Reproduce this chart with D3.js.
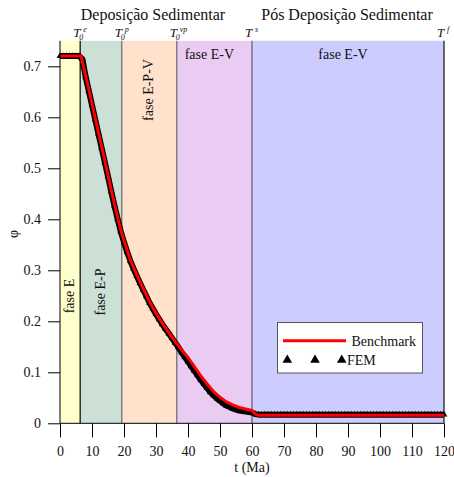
<!DOCTYPE html>
<html>
<head>
<meta charset="utf-8">
<script src="https://cdn.jsdelivr.net/npm/d3@7"></script>
<style>
  html, body { margin: 0; padding: 0; background: #fff; }
  svg { display: block; font-family: "Liberation Serif", "Times New Roman", serif; }
</style>
</head>
<body>
<svg id="chart" width="454" height="477"></svg>
<script>
// Porosity evolution during and after sedimentary deposition
const xTicks = [0, 10, 20, 30, 40, 50, 60, 70, 80, 90, 100, 110, 120];
const yTicks = [0, 0.1, 0.2, 0.3, 0.4, 0.5, 0.6, 0.7];

// Phase intervals (Ma)
const phaseStart = [0, 6.3, 19.3, 36.5, 60];
const phaseEnd   = [6.3, 19.3, 36.5, 60, 120];
const phaseColor = ["#ffffcc", "#cce0d5", "#ffe1cc", "#eaccf3", "#ccccff"];
const phaseName  = ["fase E", "fase E-P", "fase E-P-V", "fase E-V", "fase E-V"];

// Characteristic times shown above the plot
const markT   = [6.3, 19.3, 36.5, 60, 120];
const markSup = ["e", "p", "vp", "s", "f"];
const markSub = ["0", "0", "0", "", ""];

// Benchmark solution
const benchT = [0, 6.6, 7, 8, 9, 10, 12, 14, 16, 18, 19, 20, 22, 24, 26, 28, 30, 32, 34, 36,
  38, 40, 42, 44, 46, 48, 50, 52, 54, 56, 58, 60, 61, 62, 80, 100, 120];
const benchPhi = [0.72, 0.72, 0.709, 0.682, 0.655, 0.627, 0.571, 0.515, 0.458, 0.404, 0.379, 0.358,
  0.320, 0.291, 0.264, 0.238, 0.216, 0.196, 0.178, 0.160,
  0.144, 0.129, 0.111, 0.093, 0.077, 0.062, 0.051, 0.042, 0.036, 0.031, 0.028, 0.025, 0.018, 0.016,
  0.016, 0.016, 0.016];

// FEM solution (1 Ma steps)
const femPhi = [
  0.72, 0.72, 0.72, 0.72, 0.72, 0.72, 0.72, 0.714, 0.680, 0.652,   // 0-9
  0.624, 0.596, 0.568, 0.540, 0.512, 0.484, 0.455, 0.427, 0.401, 0.376, // 10-19
  0.355, 0.336, 0.318, 0.303, 0.289, 0.275, 0.262, 0.249, 0.236, 0.225, // 20-29
  0.214, 0.204, 0.194, 0.185, 0.176, 0.167, 0.158, 0.149, 0.139, 0.130, // 30-39
  0.121, 0.112, 0.103, 0.094, 0.085, 0.077, 0.069, 0.061, 0.055, 0.049, // 40-49
  0.044, 0.039, 0.035, 0.032, 0.029, 0.027, 0.025, 0.024, 0.023, 0.022, // 50-59
  0.021, 0.018, 0.017, 0.017, 0.017, 0.017, 0.017, 0.017, 0.017, 0.017, // 60-69
  0.017, 0.017, 0.017, 0.017, 0.017, 0.017, 0.017, 0.017, 0.017, 0.017, // 70-79
  0.017, 0.017, 0.017, 0.017, 0.017, 0.017, 0.017, 0.017, 0.017, 0.017, // 80-89
  0.017, 0.017, 0.017, 0.017, 0.017, 0.017, 0.017, 0.017, 0.017, 0.017, // 90-99
  0.017, 0.017, 0.017, 0.017, 0.017, 0.017, 0.017, 0.017, 0.017, 0.017, // 100-109
  0.017, 0.017, 0.017, 0.017, 0.017, 0.017, 0.017, 0.017, 0.017, 0.017, // 110-119
  0.017                                                                  // 120
];
const femT = femPhi.map((_, i) => i);

const svg = d3.select("#chart");
const x = d3.scaleLinear().domain([0, 120]).range([60, 444]);
const y = d3.scaleLinear().domain([0, 0.75]).range([423.3, 40.8]);

// Phase backgrounds
svg.append("g").selectAll("rect").data(phaseStart).join("rect")
  .attr("x", (d) => x(d))
  .attr("y", y(0.75))
  .attr("width", (d, i) => x(phaseEnd[i]) - x(d))
  .attr("height", y(0) - y(0.75))
  .attr("fill", (d, i) => phaseColor[i]);

// Phase boundaries
const boundaryColor = ["#000", "#666", "#666", "#5a5a70", "#111"];
svg.append("g").selectAll("line").data(markT).join("line")
  .attr("x1", (d) => x(d)).attr("x2", (d) => x(d))
  .attr("y1", y(0.75)).attr("y2", y(0))
  .attr("stroke", (d, i) => boundaryColor[i])
  .attr("stroke-width", 1.2);

// Phase labels
const labelG = svg.append("g").attr("font-size", 14).attr("fill", "#111");
[0, 1].forEach((i) => {
  const cx = (x(phaseStart[i]) + x(phaseEnd[i])) / 2;
  labelG.append("text")
    .attr("transform", `translate(${cx + 4},${i === 0 ? 296 : 292}) rotate(-90)`)
    .attr("text-anchor", "middle")
    .text(phaseName[i]);
});
{
  const cx = (x(phaseStart[2]) + x(phaseEnd[2])) / 2;
  labelG.append("text")
    .attr("transform", `translate(${cx + 3.5},${90}) rotate(-90)`)
    .attr("text-anchor", "middle")
    .text(phaseName[2]);
}
[3, 4].forEach((i) => {
  const cx = (x(phaseStart[i]) + x(phaseEnd[i])) / 2;
  labelG.append("text")
    .attr("x", cx - 5).attr("y", 59)
    .attr("text-anchor", "middle")
    .text(phaseName[i]);
});

// Section headers
svg.append("text").attr("x", 153).attr("y", 20).attr("text-anchor", "middle")
  .attr("font-size", 16).attr("fill", "#111").text("Deposição Sedimentar");
svg.append("text").attr("x", 347).attr("y", 20).attr("text-anchor", "middle")
  .attr("font-size", 16).attr("fill", "#111").text("Pós Deposição Sedimentar");

// Characteristic time labels
const tG = svg.append("g").attr("fill", "#111").attr("font-style", "italic");
markT.forEach((t, i) => {
  const x0 = x(t) - 7;
  tG.append("text").attr("x", x0).attr("y", 36.5).attr("font-size", 13).text("T");
  tG.append("text").attr("x", x0 + 10).attr("y", 31.5).attr("font-size", 8).text(markSup[i]);
  if (markSub[i]) {
    tG.append("text").attr("x", x0 + 6).attr("y", 40).attr("font-size", 8).text(markSub[i]);
  }
});

// FEM solution: dense triangle markers forming a band
const femPts = femT.map((t, i) => [t, femPhi[i]]);
svg.append("path")
  .datum(femPts)
  .attr("fill", "none")
  .attr("stroke", "#000")
  .attr("stroke-width", 6)
  .attr("stroke-linejoin", "round")
  .attr("d", d3.line().x((d) => x(d[0])).y((d) => y(d[1])));
const tri = d3.symbol().type(d3.symbolTriangle).size(20);
svg.append("g").selectAll("path").data(femPts).join("path")
  .attr("transform", (d) => `translate(${x(d[0])},${y(d[1])})`)
  .attr("d", tri)
  .attr("fill", "#000");

// Benchmark solution
svg.append("path")
  .datum(benchT.map((t, i) => [t, benchPhi[i]]))
  .attr("fill", "none")
  .attr("stroke", "#ff0000")
  .attr("stroke-width", 3)
  .attr("stroke-linejoin", "round")
  .attr("d", d3.line().x((d) => x(d[0])).y((d) => y(d[1])));

// Axes
const yMinor = d3.range(0, 0.7401, 0.02).filter((v) => Math.abs(v * 10 - Math.round(v * 10)) > 1e-6);
const xMinor = d3.range(5, 120, 10);

const yAxisG = svg.append("g").attr("transform", `translate(${x(0)},0)`);
yAxisG.call(d3.axisLeft(y).tickValues(yMinor).tickSize(6.5).tickFormat(""));
yAxisG.call(d3.axisLeft(y).tickValues(yTicks).tickSize(12).tickPadding(7)
  .tickFormat((d) => d === 0 ? "0" : d3.format(".1f")(d)));
yAxisG.selectAll(".domain").attr("stroke", "#000").attr("d", `M0,${y(0)}V${y(0.75)}`);

const xAxisG = svg.append("g").attr("transform", `translate(0,${y(0)})`);
xAxisG.call(d3.axisBottom(x).tickValues(xMinor).tickSize(8).tickFormat(""));
xAxisG.call(d3.axisBottom(x).tickValues(xTicks).tickSize(14).tickPadding(9).tickFormat(d3.format("d")));
xAxisG.selectAll(".domain").attr("stroke", "#000").attr("d", `M${x(0)},0H${x(120)}`);

svg.selectAll(".tick text").attr("font-family", "'Liberation Serif', 'Times New Roman', serif")
  .attr("font-size", 14).attr("fill", "#111");
svg.selectAll(".tick line").attr("stroke", "#000");

// Axis titles
svg.append("text").attr("x", x(60)).attr("y", 472).attr("text-anchor", "middle")
  .attr("font-size", 14).attr("fill", "#111").text("t (Ma)");
svg.append("text").attr("transform", `translate(18,234) rotate(-90)`)
  .attr("text-anchor", "middle").attr("font-size", 14).attr("fill", "#111").text("φ");

// Legend
const lg = svg.append("g");
lg.append("rect").attr("x", 277.5).attr("y", 322.5).attr("width", 145).attr("height", 50.5)
  .attr("fill", "#fff").attr("stroke", "#555").attr("stroke-width", 1);
lg.append("line").attr("x1", 283).attr("x2", 346).attr("y1", 340.7).attr("y2", 340.7)
  .attr("stroke", "#ff0000").attr("stroke-width", 3);
lg.append("text").attr("x", 351.5).attr("y", 345.5).attr("font-size", 14).attr("fill", "#111").text("Benchmark");
const legTri = d3.symbol().type(d3.symbolTriangle).size(40);
[287.3, 315, 341.7].forEach((cx) => {
  lg.append("path").attr("transform", `translate(${cx},${360})`).attr("d", legTri).attr("fill", "#000");
});
lg.append("text").attr("x", 347).attr("y", 364.5).attr("font-size", 14).attr("fill", "#111").text("FEM");
</script>
</body>
</html>
